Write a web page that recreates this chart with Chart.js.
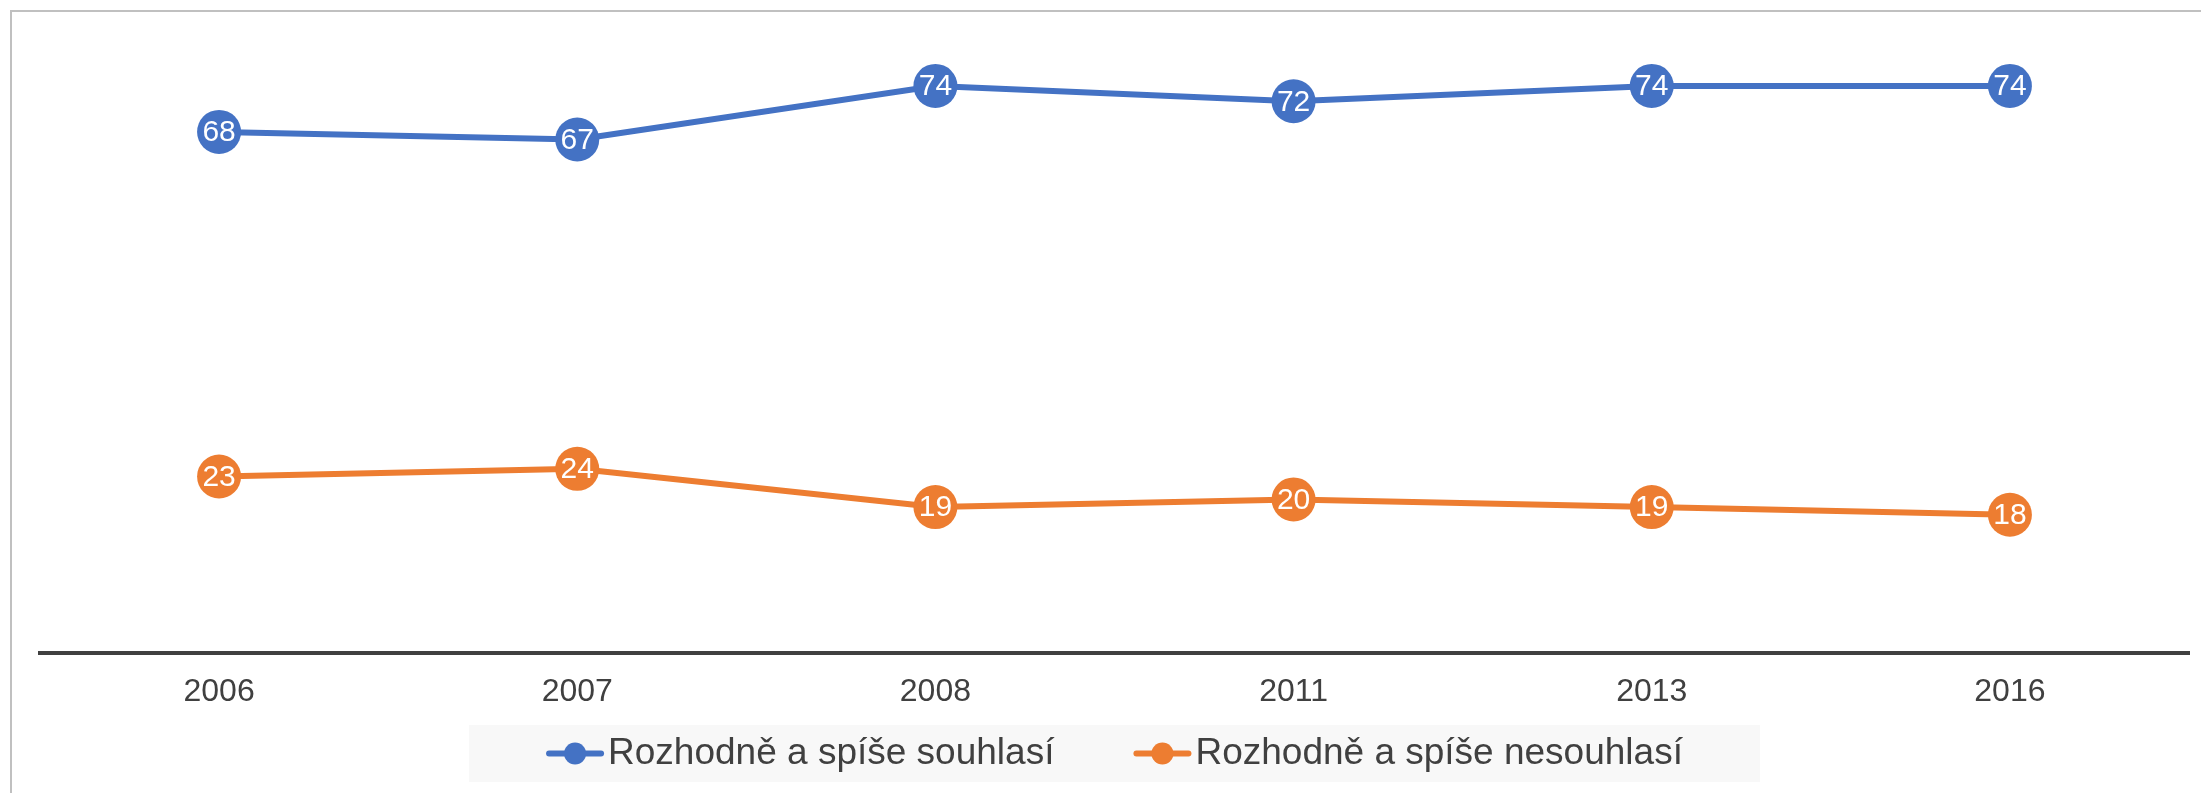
<!DOCTYPE html>
<html lang="cs">
<head>
<meta charset="utf-8">
<title>Souhlas 2006–2016</title>
<script src="https://cdn.jsdelivr.net/npm/chart.js@4/dist/chart.umd.min.js"></script>
<style>
  html, body { margin: 0; padding: 0; background: #fff; }
</style>
</head>
<body>
<canvas id="trendChart" width="2201" height="793"></canvas>
<script>
// Data
const years = ['2006', '2007', '2008', '2011', '2013', '2016'];
const agreeValues = [68, 67, 74, 72, 74, 74];
const disagreeValues = [23, 24, 19, 20, 19, 18];
const seriesNames = ['Rozhodně a spíše souhlasí', 'Rozhodně a spíše nesouhlasí'];
const seriesColors = ['#4472C4', '#ED7D31'];

const FONT = '"Liberation Sans", Arial, sans-serif';
const TEXT_COLOR = '#404040';

// Gray frame on the top and left edge, white background
const framePlugin = {
  id: 'frame',
  beforeDraw(chart) {
    const c = chart.ctx;
    c.save();
    c.fillStyle = '#ffffff';
    c.fillRect(0, 0, chart.width, chart.height);
    c.strokeStyle = '#c0c0c0';
    c.lineWidth = 2;
    c.beginPath();
    c.moveTo(11, chart.height);
    c.lineTo(11, 11);
    c.lineTo(chart.width, 11);
    c.stroke();
    c.restore();
  }
};

// White value labels inside the point circles
const valueLabels = {
  id: 'valueLabels',
  afterDatasetsDraw(chart) {
    const c = chart.ctx;
    c.save();
    c.font = '30px ' + FONT;
    c.fillStyle = '#ffffff';
    c.textAlign = 'center';
    c.textBaseline = 'middle';
    chart.data.datasets.forEach((ds, i) => {
      chart.getDatasetMeta(i).data.forEach((pt, j) => {
        c.fillText(String(ds.data[j]), pt.x, pt.y + 1);
      });
    });
    c.restore();
  }
};

// Legend with line + dot markers on a light gray band
const lineLegend = {
  id: 'lineLegend',
  afterDraw(chart) {
    const c = chart.ctx;
    const area = chart.chartArea;
    c.save();
    c.font = '37px ' + FONT;
    const items = chart.data.datasets.map(ds => ({
      label: ds.label,
      color: ds.borderColor,
      w: c.measureText(ds.label).width
    }));
    const markerW = 58, markerGap = 4, itemGap = 79, padX = 77;
    const contentW = items.reduce((s, it) => s + markerW + markerGap + it.w, 0) + itemGap * (items.length - 1);
    const boxW = contentW + padX * 2;
    const boxH = 57;
    const boxTop = chart.height - 68;
    const boxLeft = (area.left + area.right) / 2 - boxW / 2;
    c.fillStyle = '#f8f8f8';
    c.fillRect(boxLeft, boxTop, boxW, boxH);

    const cy = boxTop + boxH / 2;
    let x = boxLeft + padX;
    items.forEach(it => {
      c.strokeStyle = it.color;
      c.lineWidth = 6;
      c.lineCap = 'round';
      c.beginPath();
      c.moveTo(x + 3, cy);
      c.lineTo(x + markerW - 3, cy);
      c.stroke();
      c.fillStyle = it.color;
      c.beginPath();
      c.arc(x + markerW / 2, cy, 11, 0, Math.PI * 2);
      c.fill();
      c.fillStyle = TEXT_COLOR;
      c.textAlign = 'left';
      c.textBaseline = 'middle';
      c.fillText(it.label, x + markerW + markerGap, cy);
      x += markerW + markerGap + it.w + itemGap;
    });
    c.restore();
  }
};

function makeDataset(label, values, color) {
  return {
    label: label,
    data: values,
    borderColor: color,
    backgroundColor: color,
    borderWidth: 6,
    pointRadius: 22,
    pointHoverRadius: 22,
    pointBackgroundColor: color,
    pointBorderWidth: 0,
    tension: 0,
    fill: false
  };
}

const trendChart = new Chart(document.getElementById('trendChart').getContext('2d'), {
  type: 'line',
  data: {
    labels: years,
    datasets: [
      makeDataset(seriesNames[0], agreeValues, seriesColors[0]),
      makeDataset(seriesNames[1], disagreeValues, seriesColors[1])
    ]
  },
  options: {
    responsive: false,
    animation: false,
    layout: { autoPadding: false, padding: { top: 40, left: 40, right: 12, bottom: 62 } },
    scales: {
      x: {
        offset: true,
        grid: { display: false, drawTicks: false },
        border: { display: true, color: '#404040', width: 4 },
        ticks: { color: TEXT_COLOR, font: { size: 32, family: FONT }, padding: 20 }
      },
      y: { display: false, min: 0, max: 80 }
    },
    plugins: {
      legend: { display: false },
      tooltip: { enabled: false }
    }
  },
  plugins: [framePlugin, valueLabels, lineLegend]
});
</script>
</body>
</html>
